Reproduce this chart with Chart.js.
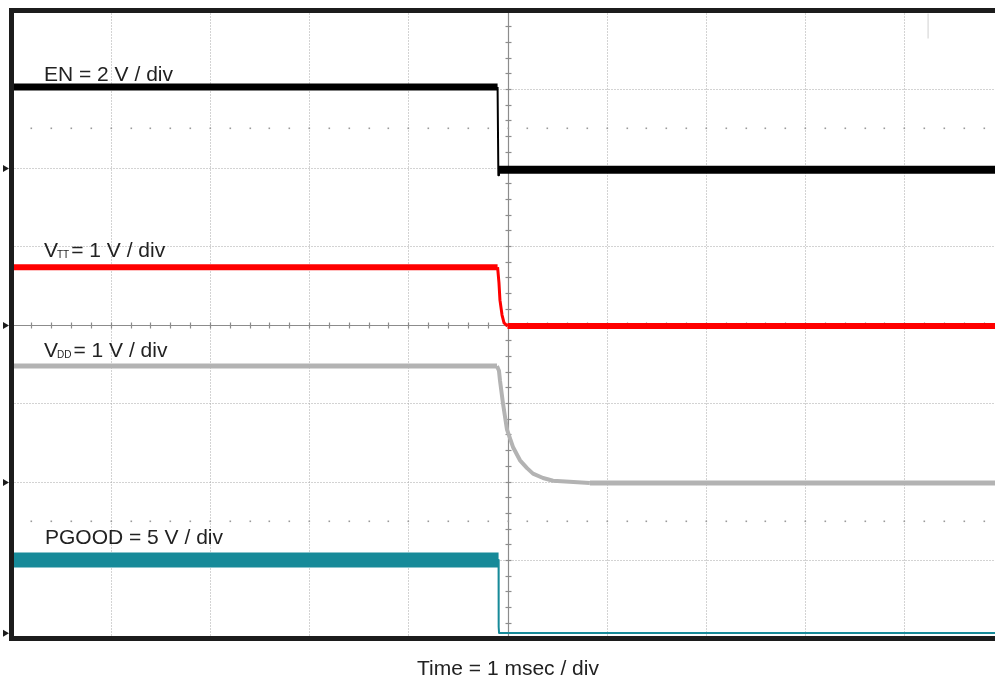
<!DOCTYPE html>
<html><head><meta charset="utf-8">
<script src="https://cdn.jsdelivr.net/npm/chart.js@4/dist/chart.umd.min.js"></script>
<style>html,body{margin:0;padding:0;overflow:hidden;background:#fff;width:995px;height:683px}canvas{display:block}</style>
</head><body><canvas id="c" width="1010" height="683"></canvas>
<script>
// Time in ms relative to screen centre (1 ms / div); values in volts
const enTime   = [-5, -0.10, -0.092, -0.086, 5];
const enVolts  = [2.05, 2.05, -0.20, -0.06, -0.06];
const vttTime  = [-5, -0.10, -0.086, -0.076, -0.055, -0.035, 0, 5];
const vttVolts = [0.73, 0.73, 0.53, 0.31, 0.12, 0.02, -0.02, -0.02];
const vddTime  = [-5, -0.106, -0.086, -0.076, -0.045, -0.005, 0.055, 0.126, 0.197, 0.257, 0.358, 0.459, 0.83, 5];
const vddVolts = [1.47, 1.47, 1.41, 1.29, 0.99, 0.66, 0.44, 0.27, 0.17, 0.10, 0.045, 0.01, -0.02, -0.02];
const pgTime   = [-5, -0.09, -0.089, -0.085, 5];
const pgVolts  = [4.6, 4.6, 0.33, -0.05, -0.05];
const voltsPerDiv = [2, 1, 1, 5];          // EN, VTT, VDD, PGOOD
const timeTitle = 'Time = 1 msec / div';

// display settings (channel ground positions in divisions, colours, widths)
const groundDiv = [2, 0, -2, -3.92];
const colors = ['#000000', '#ff0000', '#b3b3b3', '#178a99'];
const widths = [[7, 2, 8], [6, 3, 6], [5, 4, 5], [15, 2, 2]]; // high, edge, low

function build(times, volts, ch) {
  return times.map((t, i) => ({x: t, y: groundDiv[ch] + volts[i] / voltsPerDiv[ch]}));
}
const series = [[enTime, enVolts], [vttTime, vttVolts], [vddTime, vddVolts], [pgTime, pgVolts]];
const datasets = series.map((s, ch) => ({
  label: ['EN', 'VTT', 'VDD', 'PGOOD'][ch],
  data: build(s[0], s[1], ch),
  borderColor: colors[ch],
  borderWidth: widths[ch][0],
  pointRadius: 0,
  tension: 0,
  fill: false,
  borderCapStyle: 'butt',
  borderJoinStyle: 'round',
  segment: {
    borderWidth: ctx => {
      const a = ctx.p0.parsed.y, b = ctx.p1.parsed.y;
      if (a === b) return (a > groundDiv[ch] + 0.3) ? widths[ch][0] : widths[ch][2];
      return widths[ch][1];
    }
  }
}));

const scopePlugin = {
  id: 'scope',
  beforeDatasetsDraw(chart) {
    const {ctx, chartArea: ca, scales: {x, y}} = chart;
    ctx.save();
    // dotted grid
    ctx.strokeStyle = '#a6a6a6';
    ctx.lineWidth = 1;
    ctx.setLineDash([1, 2]);
    for (let i = -4; i <= 4; i++) {
      if (i === 0) continue;
      const px = Math.round(x.getPixelForValue(i)) + 0.5;
      ctx.beginPath(); ctx.moveTo(px, ca.top); ctx.lineTo(px, ca.bottom); ctx.stroke();
    }
    for (let j = -3; j <= 3; j++) {
      if (j === 0) continue;
      const py = Math.round(y.getPixelForValue(j)) + 0.5;
      ctx.beginPath(); ctx.moveTo(ca.left, py); ctx.lineTo(ca.right, py); ctx.stroke();
    }
    ctx.setLineDash([]);
    // centre lines with minor ticks
    ctx.strokeStyle = '#8c8c8c';
    ctx.lineWidth = 1.2;
    const cx = Math.round(x.getPixelForValue(0)) + 0.5;
    const cy = Math.round(y.getPixelForValue(0)) + 0.5;
    ctx.beginPath(); ctx.moveTo(cx, ca.top); ctx.lineTo(cx, ca.bottom); ctx.stroke();
    ctx.beginPath(); ctx.moveTo(ca.left, cy); ctx.lineTo(ca.right, cy); ctx.stroke();
    for (let k = -25; k <= 25; k++) {
      const px = Math.round(x.getPixelForValue(k * 0.2)) + 0.5;
      ctx.beginPath(); ctx.moveTo(px, cy - 3); ctx.lineTo(px, cy + 3); ctx.stroke();
    }
    for (let k = -20; k <= 20; k++) {
      const py = Math.round(y.getPixelForValue(k * 0.2)) + 0.5;
      ctx.beginPath(); ctx.moveTo(cx - 3, py); ctx.lineTo(cx + 3, py); ctx.stroke();
    }
    // dot rows at +/-2.5 div
    ctx.fillStyle = '#9a9a9a';
    [2.5, -2.5].forEach(v => {
      const py = Math.round(y.getPixelForValue(v));
      for (let k = -25; k <= 25; k++) {
        const px = Math.round(x.getPixelForValue(k * 0.2));
        ctx.fillRect(px - 0.5, py - 0.5, 1.6, 1.6);
      }
    });
    // trigger marker
    ctx.strokeStyle = '#e0e0e0';
    ctx.lineWidth = 1.5;
    const tx = x.getPixelForValue(4.24);
    ctx.beginPath(); ctx.moveTo(tx, ca.top + 3); ctx.lineTo(tx, ca.top + 28); ctx.stroke();
    ctx.restore();
  },
  afterDatasetsDraw(chart) {
    const {ctx, chartArea: ca, scales: {y}} = chart;
    ctx.save();
    ctx.strokeStyle = '#1c1c1c';
    ctx.lineWidth = 5;
    ctx.strokeRect(ca.left, ca.top, ca.right - ca.left, ca.bottom - ca.top);
    // ground markers
    ctx.fillStyle = '#1c1c1c';
    groundDiv.forEach(g => {
      const py = y.getPixelForValue(g) + 1;
      ctx.beginPath(); ctx.moveTo(3, py - 3.5); ctx.lineTo(9, py); ctx.lineTo(3, py + 3.5); ctx.closePath(); ctx.fill();
    });
    // labels
    const font = '21px "Liberation Sans", Arial, sans-serif';
    const sub = '10px "Liberation Sans", Arial, sans-serif';
    ctx.fillStyle = '#222222';
    ctx.textBaseline = 'alphabetic';
    ctx.textAlign = 'left';
    ctx.font = font;
    ctx.fillText('EN = ' + voltsPerDiv[0] + ' V / div', 44, 81);
    const subLabel = (s, yb, vpd) => {
      ctx.font = font;
      ctx.fillText('V', 44, yb);
      let xx = 44 + ctx.measureText('V').width - 1;
      ctx.font = sub;
      ctx.fillText(s, xx, yb + 1);
      xx += ctx.measureText(s).width + 2;
      ctx.font = font;
      ctx.fillText('= ' + vpd + ' V / div', xx, yb);
    };
    subLabel('TT', 257, voltsPerDiv[1]);
    subLabel('DD', 357, voltsPerDiv[2]);
    ctx.font = font;
    ctx.fillText('PGOOD = ' + voltsPerDiv[3] + ' V / div', 45, 544);
    ctx.textAlign = 'center';
    ctx.fillText(timeTitle, 508, 675);
    ctx.restore();
  }
};

new Chart(document.getElementById('c'), {
  type: 'line',
  data: {datasets},
  options: {
    responsive: false,
    animation: false,
    events: [],
    layout: {padding: {left: 11.5, right: 6.5, top: 10.5, bottom: 44.5}},
    plugins: {legend: {display: false}, tooltip: {enabled: false}, title: {display: false}},
    scales: {
      x: {type: 'linear', min: -5, max: 5, display: false},
      y: {type: 'linear', min: -4, max: 4, display: false}
    }
  },
  plugins: [scopePlugin]
});
</script>
</body></html>
